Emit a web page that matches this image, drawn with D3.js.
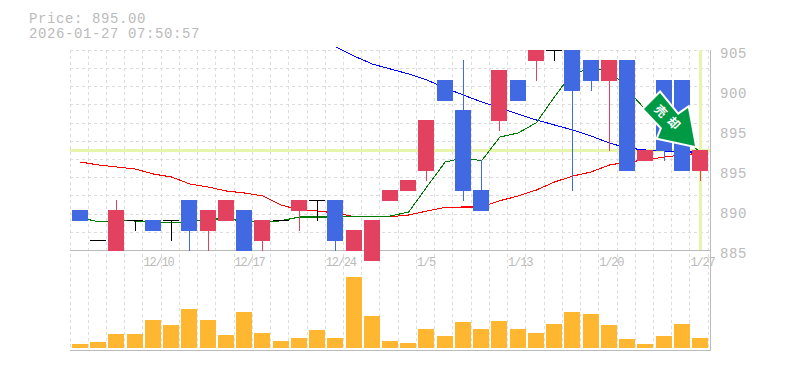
<!DOCTYPE html>
<html><head><meta charset="utf-8">
<script src="https://cdn.jsdelivr.net/npm/d3@7"></script>
<style>html,body{margin:0;padding:0;background:#fff}svg{display:block}text{font-family:"Liberation Mono",monospace;fill:#bbb}</style>
</head><body><svg id="c" width="785" height="370"></svg>
<script>
const titleLines = ["Price: 895.00","2026-01-27 07:50:57"];
const lastPrice = 895;
const opens  = [889,886,885,888,888,888,890,887,888,889,886,888,889,890,890,885,884,890,891,893,902,899,891,898,902,904,905,905,904,902,904,894,902,902,893];
const closes = [888,886,889,888,887,888,887,889,890,885,888,888,890,890,886,887,888,891,892,898,900,891,889,903,900,905,905,901,902,904,893,895,895,893,895];
const highs  = [889,886,890,888,888,888,890,889,890,889,888,888,890,890,890,887,888,891,892,898,902,904,894,903,902,905,905,905,904,904,904,895,902,902,895];
const lows   = [888,886,885,887,887,886,885,885,888,885,885,888,887,888,885,885,884,890,891,892,900,890,889,897,900,902,904,891,901,895,893,894,894,893,892];
const volumes = [4,6,14,14,28,23,39,28,13,36,15,7,10,18,10,71,32,7,5,19,12,26,19,27,19,15,24,36,34,23,9,4,12,24,10];
const maShort = [888.25,887.8,887.93,887.9,887.73,887.7,887.8,888.1,888.1,887.9,887.73,887.93,888.3,888.3,888.3,888.33,888.33,888.4,888.8,891.33,893.8,894.2,893.93,896.3,896.7,897.73,900.33,902.8,903,903.1,901,899,897.8,896.2,894.8];
const maMid = [893.8,893.5,893.3,893.1,892.6,892.3,891.6,891.3,890.9,890.7,890.4,889.5,889,888.9,888.7,888.33,888.33,888.33,888.5,888.9,889.27,889.3,889.3,889.93,890.4,891,891.8,892.4,892.8,893.5,893.8,894,894.3,894.5,894.7];
const maLong = [null,null,null,null,null,null,null,null,null,null,null,null,null,null,905.3,904.4,903.6,903.1,902.6,902,901.2,900.5,899.8,899.2,898.6,898,897.5,897,896.4,895.7,895.2,895,894.9,894.8,894.8];
const priceTicks = [905,901,897,893,889,885];
const priceTickLabels = ["905","900","895","895","890","885"];
const dateTickIdx = [4,9,14,19,24,29,34];
const dateTickLabels = ["12/10","12/17","12/24","1/5","1/13","1/20","1/27"];
const arrowText = ["売","却"];

const svg = d3.select("#c");
const L=70,R=710,T=50,B=250,VB=350;
const n = opens.length;
const cx = d3.scaleLinear().domain([0,n-1]).range([80.5,700.5]);
const gx = d3.scaleLinear().domain([0,n]).range([70,708.2]);
const gy = d3.scaleLinear().domain([0,11]).range([50.4,250.4]);
const y = d3.scaleLinear().domain([885,905]).range([B,T]);
const v = d3.scaleLinear().domain([0,100]).range([348,248]);
const left = i=>Math.floor(cx(i)-8);
const BLUE="#4169e1",RED="#e34160",ORANGE="#ffb732",GRID="#dcdcdc",AX="#bbb",YEL="#e6f5aa";

// grid
const grid = svg.append("g").attr("shape-rendering","crispEdges").attr("stroke",GRID).attr("stroke-dasharray","3,3");
grid.selectAll("line.v").data(d3.range(n+1)).join("line").attr("class","v")
  .attr("x1",i=>Math.floor(gx(i))+.5).attr("x2",i=>Math.floor(gx(i))+.5).attr("y1",T).attr("y2",VB);
grid.selectAll("line.h").data(d3.range(12)).join("line").attr("class","h")
  .attr("y1",i=>Math.floor(gy(i))+.5).attr("y2",i=>Math.floor(gy(i))+.5).attr("x1",L).attr("x2",R);

// frame
const frame = svg.append("g").attr("shape-rendering","crispEdges").attr("stroke",AX).attr("stroke-width",1.5);
frame.append("line").attr("x1",L).attr("x2",R).attr("y1",B+.5).attr("y2",B+.5);
frame.append("line").attr("x1",L).attr("x2",R+1).attr("y1",VB+.5).attr("y2",VB+.5);
frame.append("line").attr("x1",R+.5).attr("x2",R+.5).attr("y1",T).attr("y2",VB);

// last-price cross
svg.append("rect").attr("x",L).attr("width",R-L).attr("y",y(lastPrice)-1).attr("height",3).attr("fill",YEL);
svg.append("rect").attr("x",Math.floor(cx(n-1))-1).attr("width",3).attr("y",T).attr("height",B-T).attr("fill",YEL);

// volume
svg.append("g").attr("shape-rendering","crispEdges").selectAll("rect").data(volumes).join("rect")
  .attr("x",(d,i)=>left(i)).attr("width",16).attr("y",d=>v(d)).attr("height",d=>348-v(d)).attr("fill",ORANGE);

// moving averages
const line = d3.line().defined(d=>d!=null).x((d,i)=>cx(i)).y(d=>y(d));
[[maLong,"#0000ff"],[maMid,"#ff0000"],[maShort,"#007a00"]].forEach(([s,c])=>{
  svg.append("path").attr("d",line(s)).attr("fill","none").attr("stroke",c).attr("stroke-width",1.05).attr("shape-rendering","crispEdges");
});

// candles
const colorOf=i=>opens[i]===closes[i]?"#000":(closes[i]>opens[i]?RED:BLUE);
const cg = svg.append("g").attr("shape-rendering","crispEdges");
cg.selectAll("rect.w").data(d3.range(n)).join("rect").attr("class","w")
  .attr("x",i=>left(i)+8).attr("width",1).attr("y",i=>y(highs[i])).attr("height",i=>y(lows[i])-y(highs[i])+1).attr("fill",colorOf);
cg.selectAll("rect.b").data(d3.range(n)).join("rect").attr("class","b")
  .attr("x",left).attr("width",16)
  .attr("y",i=>y(Math.max(opens[i],closes[i])))
  .attr("height",i=>y(Math.min(opens[i],closes[i]))-y(Math.max(opens[i],closes[i]))+1)
  .attr("fill",colorOf);

// axes
const ay = svg.append("g").attr("transform",`translate(${R+10},0)`)
  .call(d3.axisRight(y).tickValues(priceTicks).tickSize(0).tickPadding(0).tickFormat((d,i)=>priceTickLabels[i]));
ay.select(".domain").remove();
ay.selectAll("text").attr("x",0).attr("dy",null).attr("y",7.5).attr("text-anchor","start")
  .style("font-family",'"Liberation Mono",monospace').style("font-size","14px").style("letter-spacing","0.6px").style("fill",AX);

const ax = svg.append("g").attr("transform",`translate(0,${B})`)
  .call(d3.axisBottom(gx).tickValues(dateTickIdx).tickSize(0).tickPadding(0).tickFormat((d,i)=>dateTickLabels[i]));
ax.select(".domain").remove();
ax.selectAll("text").attr("y",16).attr("dy",null).attr("text-anchor","start")
  .style("font-family",'"Liberation Mono",monospace').style("font-size","12px").style("letter-spacing","-1.2px").style("fill",AX);

// title
svg.append("g").selectAll("text").data(titleLines).join("text")
  .attr("x",29).attr("y",(d,i)=>23+i*14.5).style("font-size","14px").style("letter-spacing","0.6px").text(d=>d);

// trend arrow annotation
const arrowShape=[[660,93],[644,109],[662,128],[658,138],[695,146],[688,108],[678,115]];
svg.append("path").attr("d",d3.line().curve(d3.curveLinearClosed)(arrowShape))
  .attr("fill","#009944").attr("stroke","#fff").attr("stroke-width",4).attr("stroke-linejoin","miter").style("paint-order","stroke");
const arrowPos=[[661,111],[674,123]];
svg.append("g").selectAll("text").data(arrowText).join("text")
  .attr("transform",(d,i)=>`translate(${arrowPos[i]}) rotate(45)`)
  .attr("text-anchor","middle").attr("dy","0.38em")
  .style("font-family",'"Noto Sans CJK JP"').style("font-weight","700").style("font-size","12px").style("fill","#fff")
  .text(d=>d);
</script></body></html>
